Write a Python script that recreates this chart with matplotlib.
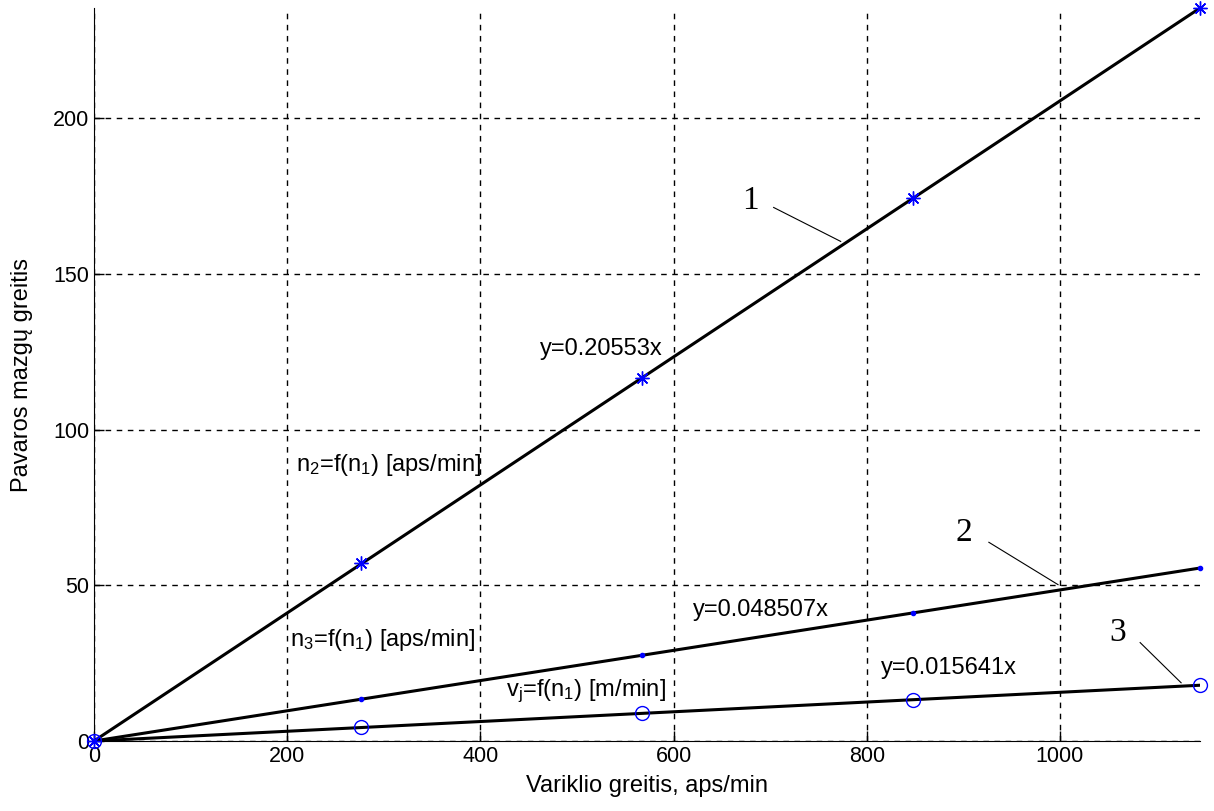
# Pavaros mazgu greitis pagal variklio greiti
import matplotlib
matplotlib.use("Agg")
import matplotlib.pyplot as plt

# duomenys
n1 = [0, 276, 567, 848, 1145]
n2 = [0, 57.0, 116.5, 174.2, 235.3]
n3 = [0, 13.4, 27.5, 41.1, 55.5]
vj = [0, 4.4, 9.0, 13.3, 17.9]
slopes = [0.20553, 0.048507, 0.015641]
fit_labels = ["y=0.20553x", "y=0.048507x", "y=0.015641x"]
curve_labels = ["n$_2$=f(n$_1$) [aps/min]", "n$_3$=f(n$_1$) [aps/min]", "v$_j$=f(n$_1$) [m/min]"]
x_ticks = [0, 200, 400, 600, 800, 1000]
y_ticks = [0, 50, 100, 150, 200]

plt.rcParams["font.family"] = ["Liberation Sans", "DejaVu Sans"]
plt.rcParams["mathtext.default"] = "regular"

fig = plt.figure(figsize=(12.14, 8.11), dpi=100)
ax = fig.add_axes([0.0774, 0.0863, 0.9111, 0.9038])

x_end = n1[-1]
markers = [((8, 2, 0), 10), (".", 6), ("o", 10)]
for ys, k, (m, ms) in zip([n2, n3, vj], slopes, markers):
    ax.plot([0, x_end], [0, k * x_end], color="black", linewidth=2.2)
    ax.plot(n1, ys, linestyle="none", marker=m, markersize=ms,
            color="blue", markerfacecolor="none" if m == "o" else "blue",
            markeredgewidth=1.0, clip_on=False, zorder=5)

ax.set_xlim(0, x_end)
ax.set_ylim(0, slopes[0] * x_end)
ax.set_xticks(x_ticks)
ax.set_yticks(y_ticks)
ax.tick_params(direction="in", length=7, labelsize=15.5, width=1)
ax.grid(True, color="black", linestyle=(0, (4, 4)), linewidth=1)
ax.spines["top"].set_visible(False)
ax.spines["right"].set_visible(False)

ax.set_xlabel("Variklio greitis, aps/min", fontsize=17, labelpad=6)
ax.set_ylabel("Pavaros mazgų greitis", fontsize=17, labelpad=14)

# uzrasai prie kreiviu
fs = 17
ax.text(462, 126, fit_labels[0], fontsize=fs, va="center")
ax.text(209, 88.5, curve_labels[0], fontsize=fs, va="center")
ax.text(620, 42, fit_labels[1], fontsize=fs, va="center")
ax.text(203, 32.5, curve_labels[1], fontsize=fs, va="center")
ax.text(815, 23.5, fit_labels[2], fontsize=fs, va="center")
ax.text(427, 15.8, curve_labels[2], fontsize=fs, va="center")

# numeriai su nuorodomis
serif = ["Liberation Serif", "DejaVu Serif"]
ax.text(680, 173.6, "1", fontsize=24, family=serif, ha="center", va="center")
ax.plot([703.6, 773], [171.3, 160.4], color="black", linewidth=0.8)
ax.text(900.5, 67, "2", fontsize=24, family=serif, ha="center", va="center")
ax.plot([926.4, 998], [63.8, 50.2], color="black", linewidth=0.8)
ax.text(1060, 34.8, "3", fontsize=24, family=serif, ha="center", va="center")
ax.plot([1083, 1125.4], [31.6, 18.7], color="black", linewidth=0.8)

fig.savefig("out.png", dpi=100)
